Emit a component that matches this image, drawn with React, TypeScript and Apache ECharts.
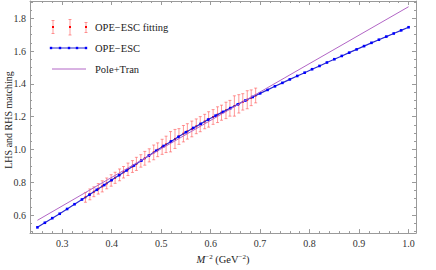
import React, { useEffect, useRef } from "react";
import * as echarts from "echarts";

// OPE-ESC curve (x = M^-2, y)
const opeX = [
  0.25, 0.265, 0.28, 0.295, 0.31, 0.325, 0.34, 0.355, 0.37, 0.385, 0.4, 0.415, 0.43, 0.445, 0.46, 0.475, 0.49,
  0.505, 0.52, 0.535, 0.55, 0.565, 0.58, 0.595, 0.61, 0.625, 0.64, 0.655, 0.67, 0.685, 0.7, 0.715, 0.73, 0.745,
  0.76, 0.775, 0.79, 0.805, 0.82, 0.835, 0.85, 0.865, 0.88, 0.895, 0.91, 0.925, 0.94, 0.955, 0.97, 0.985, 1.0,
];
const opeY = [
  0.525, 0.553, 0.581, 0.608, 0.637, 0.666, 0.695, 0.724, 0.754, 0.783, 0.813, 0.843, 0.872, 0.902, 0.932, 0.962,
  0.992, 1.021, 1.049, 1.077, 1.105, 1.131, 1.156, 1.182, 1.206, 1.229, 1.252, 1.275, 1.298, 1.32, 1.342, 1.363,
  1.385, 1.406, 1.427, 1.448, 1.468, 1.489, 1.509, 1.53, 1.55, 1.57, 1.59, 1.61, 1.63, 1.65, 1.669, 1.688, 1.707,
  1.726, 1.745,
];

// Pole+Tran
const poleX = [0.25, 0.5, 0.75, 1.0];
const poleY = [0.568, 1.004, 1.437, 1.87];

// OPE-ESC fitting (error bars)
const fitX = [
  0.347, 0.356, 0.364, 0.373, 0.381, 0.39, 0.399, 0.407, 0.416, 0.424, 0.433, 0.442, 0.45, 0.459, 0.467, 0.476,
  0.485, 0.493, 0.502, 0.51, 0.519, 0.528, 0.536, 0.545, 0.553, 0.562, 0.571, 0.579, 0.588, 0.596, 0.605, 0.614,
  0.622, 0.631, 0.639, 0.648, 0.657, 0.665, 0.674, 0.682, 0.691,
];
const fitY = [
  0.708, 0.726, 0.742, 0.76, 0.775, 0.793, 0.811, 0.827, 0.845, 0.861, 0.879, 0.896, 0.912, 0.93, 0.946, 0.964,
  0.982, 0.998, 1.016, 1.031, 1.047, 1.064, 1.079, 1.096, 1.11, 1.125, 1.141, 1.154, 1.17, 1.183, 1.198, 1.212,
  1.224, 1.238, 1.251, 1.265, 1.278, 1.29, 1.303, 1.315, 1.329,
];
const fitErr = [
  0.03, 0.033, 0.03, 0.032, 0.034, 0.033, 0.035, 0.034, 0.036, 0.035, 0.038, 0.036, 0.04, 0.038, 0.042, 0.04,
  0.045, 0.042, 0.046, 0.05, 0.062, 0.058, 0.048, 0.05, 0.047, 0.048, 0.045, 0.046, 0.044, 0.047, 0.045, 0.048,
  0.046, 0.05, 0.048, 0.062, 0.056, 0.05, 0.055, 0.048, 0.045,
];

const legendLabels = ["OPE\u2212ESC fitting", "OPE\u2212ESC", "Pole+Tran"];
const yTitle = "LHS and RHS matching";

const SERIF = "Liberation Serif";
const FRAME = "#9a9a9a";
const RED = "rgba(255,70,70,0.55)";
const BLUE_LINE = "#2a2ad0";
const BLUE_PT = "#0000ff";
const PURPLE = "#b266c6";

export default function App() {
  const ref = useRef<HTMLDivElement>(null);
  useEffect(() => {
    if (!ref.current) return;
    const chart = echarts.init(ref.current, null, { renderer: "svg" });

    const axisCommon = {
      type: "value" as const,
      axisLine: { show: true, onZero: false, lineStyle: { color: FRAME, width: 1 } },
      axisTick: { show: true, inside: true, length: 4, lineStyle: { color: FRAME } },
      minorTick: { show: true, length: 2, lineStyle: { color: FRAME } },
      splitLine: { show: false },
    };

    const errData = fitX.map((x, i) => [x, fitY[i], fitY[i] - fitErr[i], fitY[i] + fitErr[i]]);

    const legendG: any[] = [];
    const barSpecs = [
      [53, 20.5, 33.5],
      [70, 19.5, 35],
      [86, 22.5, 32.5],
    ];
    barSpecs.forEach(([x, t, b]) => {
      legendG.push({ type: "line", shape: { x1: x, y1: t, x2: x, y2: b }, style: { stroke: RED, lineWidth: 1 } });
      legendG.push({ type: "line", shape: { x1: x - 1.5, y1: t, x2: x + 1.5, y2: t }, style: { stroke: RED, lineWidth: 1 } });
      legendG.push({ type: "line", shape: { x1: x - 1.5, y1: b, x2: x + 1.5, y2: b }, style: { stroke: RED, lineWidth: 1 } });
      legendG.push({ type: "rect", shape: { x: x - 1, y: 26, width: 2, height: 2 }, style: { fill: "#ff0000" } });
    });
    legendG.push({ type: "line", shape: { x1: 51, y1: 48, x2: 86, y2: 48 }, style: { stroke: BLUE_LINE, lineWidth: 1.2 } });
    [51, 60, 69, 77, 86].forEach((x) =>
      legendG.push({ type: "rect", shape: { x: x - 1.2, y: 46.8, width: 2.4, height: 2.4 }, style: { fill: BLUE_PT } })
    );
    legendG.push({ type: "line", shape: { x1: 52, y1: 69, x2: 86, y2: 69 }, style: { stroke: PURPLE, lineWidth: 1 } });
    [27, 48, 69].forEach((y, i) =>
      legendG.push({
        type: "text",
        x: 95,
        y,
        style: { text: legendLabels[i], font: `10.5px "${SERIF}"`, fill: "#222", verticalAlign: "middle" },
      })
    );
    legendG.push({
      type: "text",
      x: 8,
      y: 120,
      rotation: Math.PI / 2,
      style: { text: yTitle, font: `10px "${SERIF}"`, fill: "#222", align: "center", verticalAlign: "middle" },
    });

    chart.setOption({
      animation: false,
      backgroundColor: "#ffffff",
      grid: { left: 30, right: 20, top: 1, bottom: 31, containLabel: false },
      xAxis: [
        {
          ...axisCommon,
          position: "bottom",
          min: 0.235,
          max: 1.015,
          splitNumber: 8,
          minorTick: { ...axisCommon.minorTick, splitNumber: 5 },
          axisLabel: {
            color: "#333",
            fontFamily: SERIF,
            fontSize: 10,
            margin: 5,
            showMinLabel: false,
            showMaxLabel: false,
            formatter: (v: number) => v.toFixed(1),
          },
          name: "{i|M}{sup|\u22122} (GeV{sup|\u22122})",
          nameLocation: "middle",
          nameGap: 19,
          nameTextStyle: {
            color: "#222",
            fontFamily: SERIF,
            fontSize: 10.5,
            rich: {
              i: { fontFamily: SERIF, fontSize: 10.5, fontStyle: "italic", color: "#222" },
              sup: { fontFamily: SERIF, fontSize: 7, color: "#222", padding: [0, 0, 6, 0] },
            },
          },
        },
        {
          ...axisCommon,
          position: "top",
          min: 0.235,
          max: 1.015,
          splitNumber: 8,
          minorTick: { ...axisCommon.minorTick, splitNumber: 5 },
          axisLabel: { show: false },
        },
      ],
      yAxis: [
        {
          ...axisCommon,
          position: "left",
          min: 0.49,
          max: 1.905,
          splitNumber: 7,
          minorTick: { ...axisCommon.minorTick, splitNumber: 4 },
          axisLabel: {
            color: "#333",
            fontFamily: SERIF,
            fontSize: 10,
            margin: 4,
            showMinLabel: false,
            showMaxLabel: false,
            formatter: (v: number) => v.toFixed(1),
          },
        },
        {
          ...axisCommon,
          position: "right",
          min: 0.49,
          max: 1.905,
          splitNumber: 7,
          minorTick: { ...axisCommon.minorTick, splitNumber: 4 },
          axisLabel: { show: false },
        },
      ],
      series: [
        {
          type: "custom",
          name: legendLabels[0],
          xAxisIndex: 0,
          yAxisIndex: 0,
          z: 1,
          data: errData,
          renderItem: (params: any, api: any) => {
            const x = api.value(0);
            const top = api.coord([x, api.value(3)]);
            const bot = api.coord([x, api.value(2)]);
            const mid = api.coord([x, api.value(1)]);
            const st = { stroke: RED, lineWidth: 1 };
            return {
              type: "group",
              children: [
                { type: "line", shape: { x1: top[0], y1: top[1], x2: bot[0], y2: bot[1] }, style: st },
                { type: "line", shape: { x1: top[0] - 1.5, y1: top[1], x2: top[0] + 1.5, y2: top[1] }, style: st },
                { type: "line", shape: { x1: bot[0] - 1.5, y1: bot[1], x2: bot[0] + 1.5, y2: bot[1] }, style: st },
                { type: "rect", shape: { x: mid[0] - 1, y: mid[1] - 1, width: 2, height: 2 }, style: { fill: "#ff0000" } },
              ],
            };
          },
        },
        {
          type: "line",
          name: legendLabels[1],
          z: 2,
          data: opeX.map((x, i) => [x, opeY[i]]),
          symbol: "rect",
          symbolSize: 2.6,
          showSymbol: true,
          itemStyle: { color: BLUE_PT },
          lineStyle: { color: BLUE_LINE, width: 1.2 },
        },
        {
          type: "line",
          name: legendLabels[2],
          z: 3,
          data: poleX.map((x, i) => [x, poleY[i]]),
          symbol: "none",
          lineStyle: { color: PURPLE, width: 1 },
        },
      ],
      graphic: [{ type: "group", children: legendG }],
    });
    return () => chart.dispose();
  }, []);
  return <div ref={ref} style={{ position: "fixed", left: 0, top: 0, width: 436, height: 270 }} />;
}
